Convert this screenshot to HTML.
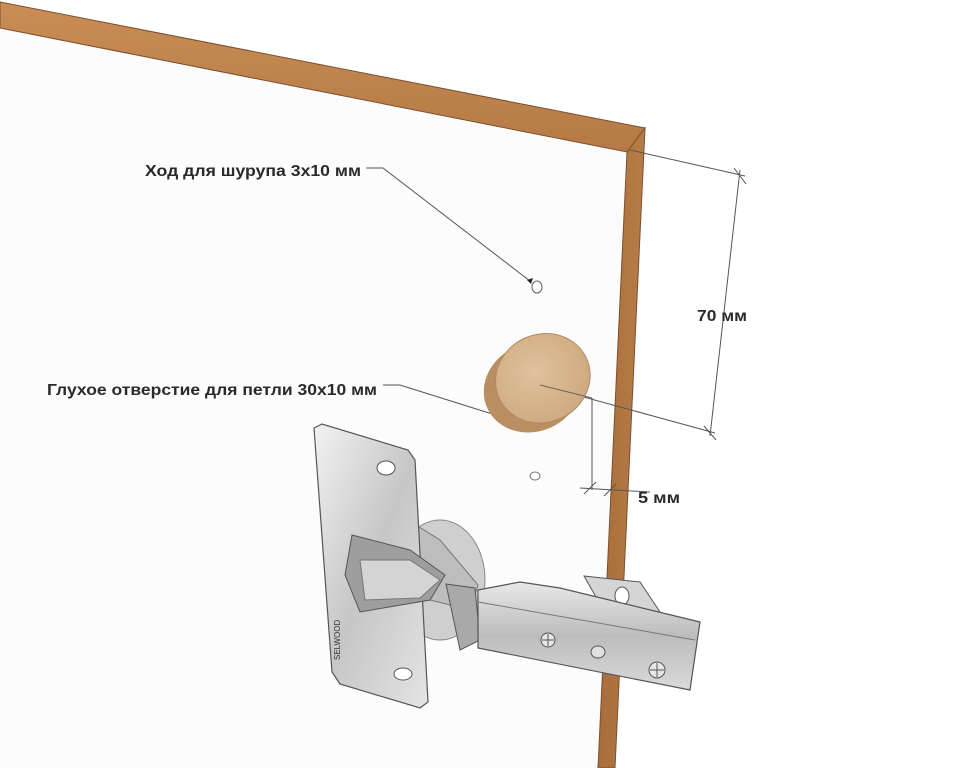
<!DOCTYPE html>
<html><head><meta charset="utf-8"><style>
html,body{margin:0;padding:0;background:#fff;}
svg{display:block;}
text{font-family:"Liberation Sans","DejaVu Sans",sans-serif;font-size:16px;fill:#2a2a2a;font-weight:bold;}
</style></head><body>
<svg width="953" height="768" viewBox="0 0 953 768" xmlns="http://www.w3.org/2000/svg">
<defs>
<linearGradient id="wood" x1="0" y1="0" x2="0" y2="1"><stop offset="0" stop-color="#c98d55"/><stop offset="1" stop-color="#b57a45"/></linearGradient>
<linearGradient id="woodR" x1="0" y1="0" x2="1" y2="0"><stop offset="0" stop-color="#a96d3c"/><stop offset="1" stop-color="#b87c46"/></linearGradient>
<linearGradient id="metal" x1="0" y1="0" x2="1" y2="1"><stop offset="0" stop-color="#f2f2f2"/><stop offset="0.5" stop-color="#c6c6c6"/><stop offset="1" stop-color="#e4e4e4"/></linearGradient>
<linearGradient id="metal2" x1="0" y1="0" x2="0" y2="1"><stop offset="0" stop-color="#e8e8e8"/><stop offset="0.5" stop-color="#bcbcbc"/><stop offset="1" stop-color="#dadada"/></linearGradient>
<radialGradient id="cork" cx="0.45" cy="0.4" r="0.6"><stop offset="0" stop-color="#e0c29c"/><stop offset="1" stop-color="#cfaa80"/></radialGradient>
</defs>
<rect width="953" height="768" fill="#fff"/>
<polygon points="0,28 627,152 598,768 0,768" fill="#fcfcfc"/>
<polygon points="0,2 645,128 627,152 0,28" fill="url(#wood)" stroke="#7a5030" stroke-width="1"/>
<polygon points="627,152 645,128 615,768 598,768" fill="url(#woodR)" stroke="#7a5030" stroke-width="1"/>
<g stroke="#555" stroke-width="1" fill="none">
<line x1="630" y1="150" x2="745" y2="176"/>
<line x1="740" y1="170" x2="710" y2="436"/>
<line x1="540" y1="385" x2="715" y2="433"/>
<line x1="734" y1="168" x2="746" y2="184"/>
<line x1="704" y1="426" x2="716" y2="440"/>
<line x1="592" y1="398" x2="592" y2="490"/>
<line x1="580" y1="488" x2="650" y2="492"/>
<line x1="584" y1="494" x2="596" y2="482"/>
<line x1="604" y1="496" x2="616" y2="484"/>
<polyline points="366,168 383,168 530,281"/>
<polyline points="383,385 400,385 505,418"/>
</g>
<polygon points="527,280 533,278 531,284" fill="#222"/>
<polygon points="500,414 508,418 500,421" fill="#222"/>
<ellipse cx="537" cy="287" rx="5" ry="6" fill="#fff" stroke="#666"/>
<ellipse cx="535" cy="476" rx="5" ry="4" fill="#fff" stroke="#777"/>
<g transform="rotate(-25 540 384)">
<ellipse cx="532" cy="384" rx="50" ry="44" fill="#b98e62"/>
<ellipse cx="545" cy="380" rx="48" ry="44" fill="url(#cork)" stroke="#b08a64" stroke-width="1"/>
</g>
<line x1="540" y1="385" x2="592" y2="398" stroke="#666" stroke-width="1"/>
<ellipse cx="440" cy="580" rx="45" ry="60" fill="#cfcfcf" stroke="#888"/>
<polygon points="408,520 440,540 478,585 470,610 430,600" fill="#bdbdbd" stroke="#777"/>
<polygon points="314,428 322,424 408,450 415,460 428,702 420,708 340,684 332,672" fill="url(#metal)" stroke="#555" stroke-width="1.2"/>
<ellipse cx="386" cy="468" rx="9" ry="7" fill="#fff" stroke="#555"/>
<ellipse cx="403" cy="674" rx="9" ry="6" fill="#fff" stroke="#555"/>
<polygon points="352,535 410,550 445,575 430,600 360,612 345,575" fill="#9e9e9e" stroke="#555"/>
<polygon points="360,560 410,560 440,580 420,598 365,600" fill="#d4d4d4" stroke="#777"/>
<text x="0" y="0" transform="translate(340,660) rotate(-90)" style="font-size:8px;fill:#333;font-weight:normal">SELWOOD</text>
<polygon points="584,576 640,582 660,612 655,628 608,618" fill="#d5d5d5" stroke="#555"/>
<ellipse cx="622" cy="596" rx="7" ry="9" fill="#fff" stroke="#555"/>
<polygon points="446,584 475,588 480,640 460,650" fill="#a9a9a9" stroke="#555"/>
<polygon points="478,590 520,582 560,588 700,622 690,690 478,648" fill="url(#metal2)" stroke="#555" stroke-width="1.2"/>
<line x1="478" y1="602" x2="695" y2="640" stroke="#777"/>
<circle cx="548" cy="640" r="7" fill="#e6e6e6" stroke="#555"/>
<path d="M542 640h12M548 634v12" stroke="#555"/>
<ellipse cx="598" cy="652" rx="7" ry="6" fill="#e0e0e0" stroke="#555"/>
<circle cx="657" cy="670" r="8" fill="#e6e6e6" stroke="#555"/>
<path d="M650 670h14M657 663v14" stroke="#555"/>
<text x="145" y="176" textLength="216" lengthAdjust="spacingAndGlyphs">Ход для шурупа 3x10 мм</text>
<text x="47" y="395" textLength="330" lengthAdjust="spacingAndGlyphs">Глухое отверстие для петли 30x10 мм</text>
<text x="697" y="321" textLength="50" lengthAdjust="spacingAndGlyphs">70 мм</text>
<text x="638" y="503" textLength="42" lengthAdjust="spacingAndGlyphs">5 мм</text>
</svg>
</body></html>
